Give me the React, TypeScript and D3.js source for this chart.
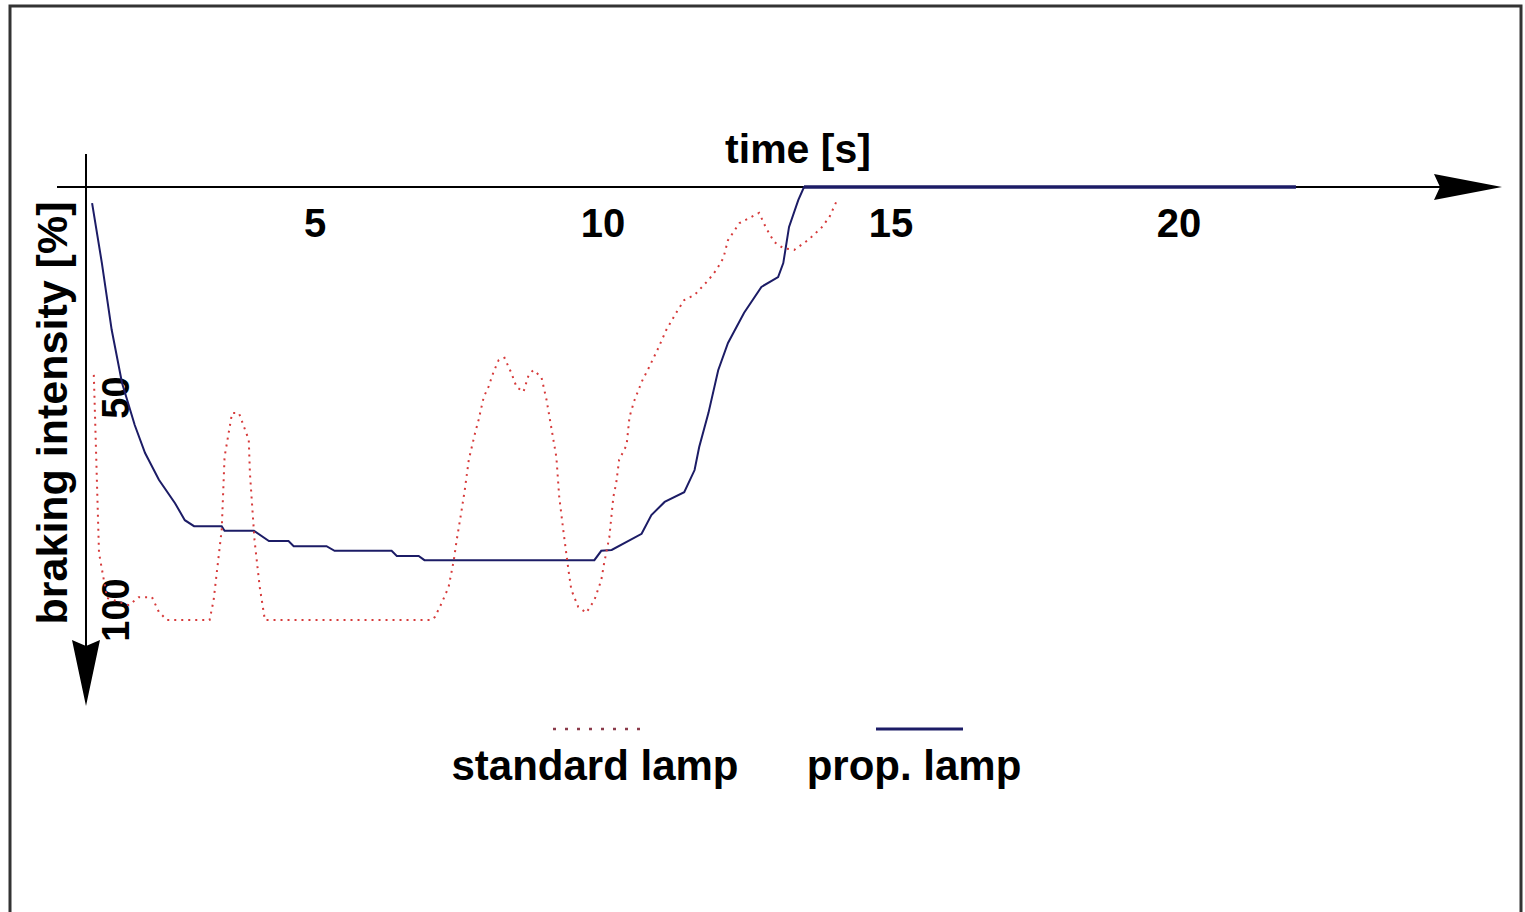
import React, { useEffect, useRef } from 'react'
import * as d3 from 'd3'

// time [s] / braking intensity [%]
const standardTime = [1.16, 1.25, 1.39, 1.77, 1.94, 2.17, 2.29, 2.43, 3.17, 3.24, 3.38, 3.43, 3.56, 3.68, 3.85, 3.87, 3.95, 4.04, 4.13, 7.02, 7.08, 7.2, 7.32, 7.41, 7.46, 7.54, 7.6, 7.67, 7.77, 7.84, 7.93, 8.01, 8.1, 8.19, 8.29, 8.41, 8.5, 8.62, 8.71, 8.79, 8.93, 9.02, 9.11, 9.19, 9.24, 9.31, 9.4, 9.45, 9.57, 9.71, 9.85, 9.97, 10.02, 10.11, 10.18, 10.23, 10.28, 10.41, 10.46, 10.54, 10.68, 10.8, 10.96, 11.1, 11.27, 11.41, 11.59, 11.83, 11.97, 12.09, 12.17, 12.37, 12.57, 12.71, 12.83, 12.97, 13.13, 13.32, 13.56, 13.79, 13.93, 14.05]
const standardValue = [44.2, 86.1, 96.7, 98.4, 96.5, 96.5, 100, 101.9, 101.9, 97.2, 80.7, 63.5, 53.2, 53.2, 59.5, 67.3, 83.1, 94.1, 101.9, 101.9, 101.2, 97.9, 94.1, 87.8, 83.1, 76.5, 71.3, 64.2, 58.4, 54.8, 49.4, 47.1, 43.5, 40.7, 40.2, 43.8, 47.1, 48.2, 44.2, 43.1, 44.7, 50.1, 57.2, 63.5, 72.9, 80.7, 90.1, 94.8, 98.8, 100.2, 97.2, 92.5, 88.5, 82.4, 72.9, 69.6, 64.2, 60.7, 54.1, 50.4, 45.6, 42.4, 37.9, 33.6, 29.6, 26.6, 25.4, 21.9, 19.5, 16.7, 12.5, 8.5, 7.1, 6.1, 9.6, 12.9, 14.4, 14.8, 12.5, 9.6, 7.1, 3.5]

const propTime = [1.13, 1.3, 1.47, 1.65, 1.87, 2.05, 2.29, 2.57, 2.74, 2.9, 3.38, 3.43, 3.94, 4.2, 4.54, 4.63, 5.2, 5.34, 6.33, 6.42, 6.8, 6.9, 9.85, 9.97, 10.15, 10.67, 10.84, 11.07, 11.41, 11.59, 11.67, 11.83, 12.0, 12.17, 12.45, 12.75, 13.04, 13.13, 13.23, 13.39, 13.49, 22.03]
const propValue = [3.8, 17.9, 33.6, 46.1, 56.0, 62.6, 68.9, 74.4, 78.4, 79.8, 79.8, 80.9, 80.9, 83.3, 83.3, 84.5, 84.5, 85.6, 85.6, 86.8, 86.8, 87.8, 87.8, 85.6, 85.4, 81.6, 77.2, 74.1, 71.8, 66.6, 61.2, 53.2, 43.1, 36.7, 29.6, 23.5, 21.2, 17.9, 9.4, 3.1, 0, 0]

const timeTicks = [5, 10, 15, 20]
const intensityTicks = [50, 100]

const seriesNames = ['standard lamp', 'prop. lamp']

export default function App() {
  const svgRef = useRef<SVGSVGElement>(null)

  useEffect(() => {
    if (!svgRef.current) return
    const svg = d3.select(svgRef.current)
    svg.selectAll('*').remove()

    const font = "'Liberation Sans', Arial, sans-serif"
    const red = '#d63a3a'
    const navy = '#1c1c66'

    // frame
    svg.append('rect')
      .attr('x', 10).attr('y', 6)
      .attr('width', 1511).attr('height', 940)
      .attr('fill', '#fff')
      .attr('stroke', '#333').attr('stroke-width', 3)

    const x = d3.scaleLinear().domain([0, 20]).range([27, 1179])
    const y = d3.scaleLinear().domain([0, 100]).range([187, 612])

    // axes with arrows
    svg.append('line')
      .attr('x1', 57).attr('x2', 1445).attr('y1', 187).attr('y2', 187)
      .attr('stroke', '#000').attr('stroke-width', 2)
    svg.append('path')
      .attr('d', 'M1502,187 L1434,174 L1440,187 L1434,200 Z')
      .attr('fill', '#000')

    svg.append('line')
      .attr('x1', 86).attr('x2', 86).attr('y1', 154).attr('y2', 650)
      .attr('stroke', '#000').attr('stroke-width', 2)
    svg.append('path')
      .attr('d', 'M86,706 L72,640 L86,646 L100,640 Z')
      .attr('fill', '#000')

    // axis titles
    svg.append('text')
      .attr('x', 798).attr('y', 163)
      .attr('text-anchor', 'middle')
      .style('font-family', font).style('font-weight', 'bold').style('font-size', '41px')
      .text('time [s]')

    svg.append('text')
      .attr('transform', 'translate(67,413) rotate(-90)')
      .attr('text-anchor', 'middle')
      .style('font-family', font).style('font-weight', 'bold').style('font-size', '43px')
      .text('braking intensity [%]')

    // tick labels
    svg.selectAll('.xtick')
      .data(timeTicks)
      .enter()
      .append('text')
      .attr('class', 'xtick')
      .attr('x', d => x(d))
      .attr('y', 237)
      .attr('text-anchor', 'middle')
      .style('font-family', font).style('font-weight', 'bold').style('font-size', '40px')
      .text(d => d)

    svg.selectAll('.ytick')
      .data(intensityTicks)
      .enter()
      .append('text')
      .attr('class', 'ytick')
      .attr('transform', d => `translate(129,${y(d) - 2}) rotate(-90)`)
      .attr('text-anchor', 'middle')
      .style('font-family', font).style('font-weight', 'bold').style('font-size', '38px')
      .text(d => d)

    const line = d3.line<[number, number]>()
      .x(d => x(d[0]))
      .y(d => y(d[1]))

    const standardPts = standardTime.map((t, i) => [t, standardValue[i]] as [number, number])
    const propPts = propTime.map((t, i) => [t, propValue[i]] as [number, number])

    svg.append('path')
      .datum(propPts)
      .attr('fill', 'none')
      .attr('stroke', navy)
      .attr('stroke-width', 2)
      .attr('d', line)

    // thick flat tail along the time axis
    svg.append('path')
      .datum(propPts.slice(-2))
      .attr('fill', 'none')
      .attr('stroke', navy)
      .attr('stroke-width', 3.5)
      .attr('d', line)

    svg.append('path')
      .datum(standardPts)
      .attr('fill', 'none')
      .attr('stroke', red)
      .attr('stroke-width', 2)
      .attr('stroke-dasharray', '2,5')
      .attr('d', line)

    // legend
    const legend = svg.append('g')
    const legendItems = [
      { name: seriesNames[0], lx: 553, tx: 595, color: '#8a3a4a', dash: '3,9' },
      { name: seriesNames[1], lx: 876, tx: 914, color: navy, dash: null }
    ]
    legendItems.forEach(item => {
      legend.append('line')
        .attr('x1', item.lx).attr('x2', item.lx + 87)
        .attr('y1', 729).attr('y2', 729)
        .attr('stroke', item.color)
        .attr('stroke-width', item.dash ? 2.5 : 3)
        .attr('stroke-dasharray', item.dash)
      legend.append('text')
        .attr('x', item.tx).attr('y', 780)
        .attr('text-anchor', 'middle')
        .style('font-family', font).style('font-weight', 'bold').style('font-size', '42px')
        .text(item.name)
    })
  }, [])

  return (
    <div>
      <style>{'body{margin:0}'}</style>
      <svg ref={svgRef} width={1525} height={912} style={{ display: 'block' }} />
    </div>
  )
}
